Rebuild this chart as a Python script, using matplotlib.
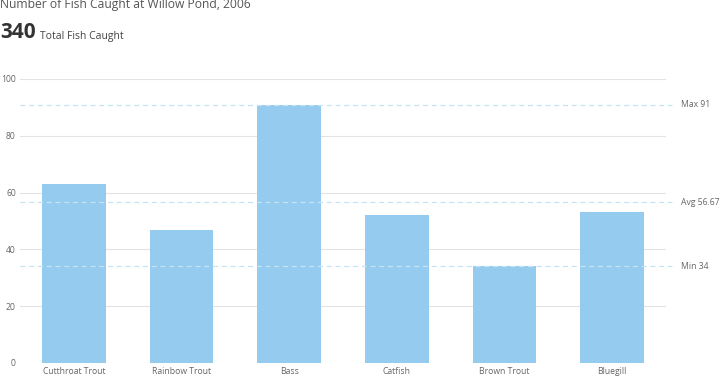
import matplotlib.pyplot as plt

# Data
fish = ["Cutthroat Trout", "Rainbow Trout", "Bass", "Catfish", "Brown Trout", "Bluegill"]
caught = [63, 47, 91, 52, 34, 53]

total = sum(caught)
avg = total / len(caught)
mx = max(caught)
mn = min(caught)

plt.rcParams['font.family'] = ['Open Sans', 'DejaVu Sans']

fig = plt.figure(figsize=(7.2, 3.76), dpi=100)
ax = fig.add_axes([20 / 720, 1 - 363 / 376, 646 / 720, 284 / 376])

x = range(len(fish))
ax.bar(x, caught, width=0.593, color="#95cbee", zorder=3)
ax.set_xlim(-0.5, len(fish) - 0.5)
ax.set_ylim(0, 100)
ax.set_yticks(range(0, 101, 20))
ax.set_xticks(list(x))
ax.set_xticklabels(fish)
ax.grid(axis="y", color="#e3e3e3", linewidth=0.8, zorder=0)
for s in ax.spines.values():
    s.set_visible(False)
ax.tick_params(length=0, labelsize=6.2, colors="#666666")
ax.tick_params(axis="y", pad=3)
ax.tick_params(axis="x", pad=3)

# reference lines
for val, txt in [(mx, f"Max {mx}"), (avg, f"Avg {avg:.2f}"), (mn, f"Min {mn}")]:
    ax.plot([-0.5, 5.555], [val, val], color="#c6e2f5", linestyle=(0, (4, 3)),
            linewidth=0.9, clip_on=False, zorder=4)
    ax.text(5.64, val, txt, fontsize=6.2, color="#666666", va="center", ha="left")

fig.text(0.0, 1.004, "Number of Fish Caught at Willow Pond, 2006", fontsize=8.7,
         color="#555555", ha="left", va="top")
fig.text(0.0, 1 - 33 / 376, str(total), fontsize=15, fontweight="bold",
         color="#333333", ha="left", va="center")
fig.text(40 / 720, 1 - 37 / 376, "Total Fish Caught", fontsize=7.5,
         color="#444444", ha="left", va="center")

plt.savefig("out.png", dpi=100)
